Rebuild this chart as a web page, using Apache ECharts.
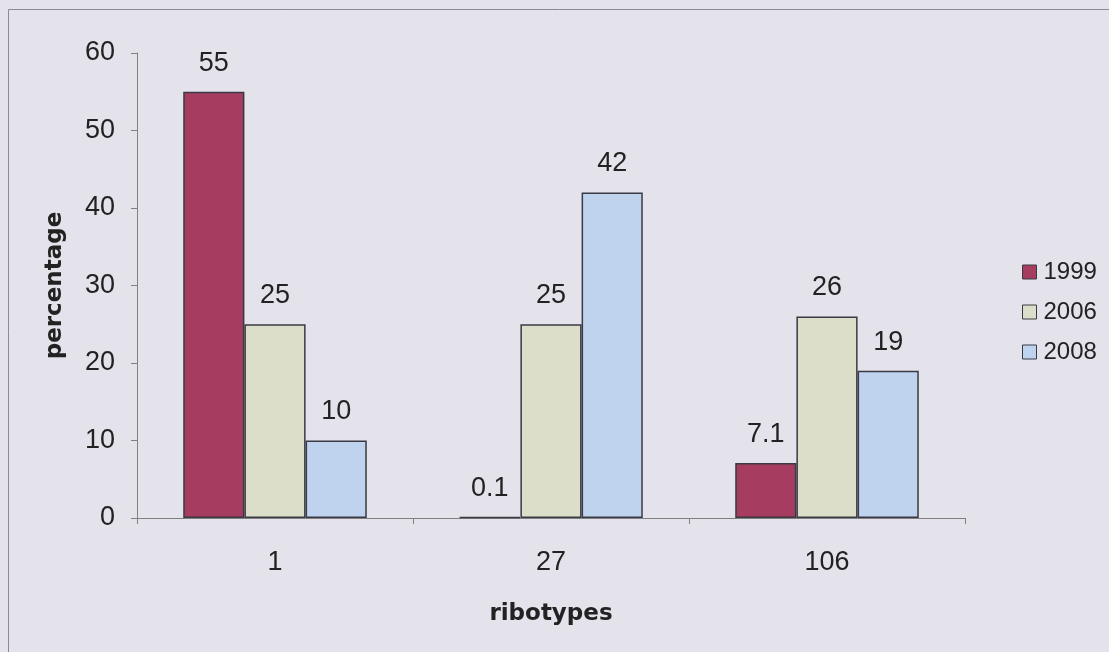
<!DOCTYPE html>
<html>
<head>
<meta charset="utf-8">
<script src="https://cdn.jsdelivr.net/npm/echarts@6/dist/echarts.min.js"></script>
<style>
html,body{margin:0;padding:0;background:#E4E3EC;}
#chart{width:1109px;height:652px;}
</style>
</head>
<body>
<div id="chart"></div>
<script>
const categories = ['1', '27', '106'];
const seriesNames = ['1999', '2006', '2008'];
const values1999 = [55, 0.1, 7.1];
const values2006 = [25, 25, 26];
const values2008 = [10, 42, 19];
const yTicks = [0, 10, 20, 30, 40, 50, 60];

const colors = ['#A63C5F', '#DDDEC9', '#BFD3EE'];
const font = 'Liberation Sans, Arial, sans-serif';
const boldFont = 'DejaVu Sans, Liberation Sans, sans-serif';
const allValues = [values1999, values2006, values2008];

const chart = echarts.init(document.getElementById('chart'));
chart.setOption({
  backgroundColor: '#E4E3EC',
  animation: false,
  textStyle: { fontFamily: font },
  graphic: [{
    type: 'rect',
    shape: { x: 8.5, y: 9.5, width: 1200, height: 800 },
    style: { fill: 'none', stroke: '#8A8A94', lineWidth: 1 },
    silent: true
  }],
  grid: { left: 137, right: 144, top: 53, bottom: 134 },
  legend: {
    orient: 'vertical',
    left: 1017,
    top: 255,
    itemWidth: 14,
    itemHeight: 14,
    itemGap: 16,
    icon: 'rect',
    data: seriesNames,
    itemStyle: { borderColor: '#3A3A44', borderWidth: 1 },
    textStyle: { fontSize: 24, lineHeight: 24, color: '#222', fontFamily: font, padding: [0, 0, 0, 2] }
  },
  xAxis: {
    type: 'category',
    data: categories,
    name: 'ribotypes',
    nameLocation: 'middle',
    nameGap: 85,
    nameTextStyle: { fontSize: 23, fontWeight: 'bold', color: '#222', fontFamily: boldFont },
    axisLine: { lineStyle: { color: '#808080', width: 1 } },
    axisTick: { show: true, length: 6, inside: false, alignWithLabel: false, lineStyle: { color: '#808080' } },
    axisLabel: { fontSize: 27, color: '#222', margin: 31, fontFamily: font }
  },
  yAxis: {
    type: 'value',
    min: yTicks[0],
    max: yTicks[yTicks.length - 1],
    interval: 10,
    name: 'percentage',
    nameLocation: 'middle',
    nameGap: 70,
    nameTextStyle: { fontSize: 23, fontWeight: 'bold', color: '#222', fontFamily: boldFont },
    axisLine: { show: true, lineStyle: { color: '#808080', width: 1 } },
    axisTick: { show: true, length: 6, lineStyle: { color: '#808080' } },
    splitLine: { show: false },
    axisLabel: { fontSize: 27, color: '#222', margin: 22, fontFamily: font }
  },
  series: seriesNames.map((name, i) => ({
    name: name,
    type: 'bar',
    data: allValues[i],
    barGap: '0%',
    barCategoryGap: '33.5%',
    itemStyle: { color: colors[i], borderColor: '#3A3A44', borderWidth: 1.5 },
    label: {
      show: true,
      position: 'top',
      distance: 15,
      fontSize: 27,
      color: '#222',
      fontFamily: font
    }
  }))
});
</script>
</body>
</html>
